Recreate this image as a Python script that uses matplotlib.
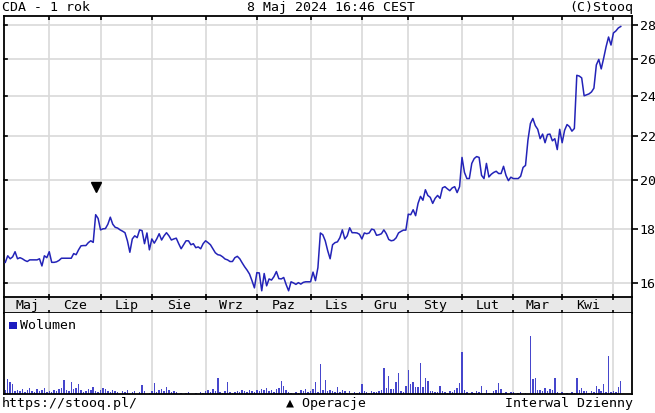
import numpy as np
import matplotlib
matplotlib.use('Agg')
import matplotlib.pyplot as plt
from matplotlib.ticker import FixedLocator, NullLocator, FuncFormatter
from matplotlib.patches import Rectangle
import matplotlib.transforms as mtransforms

# ---------------- data ----------------
month_labels = ['Maj', 'Cze', 'Lip', 'Sie', 'Wrz', 'Paz', 'Lis', 'Gru',
                'Sty', 'Lut', 'Mar', 'Kwi']
# trading sessions per month (May 2023 .. May 2024)
month_days = [18, 21, 21, 22, 21, 22, 21, 19, 22, 21, 20, 21, 4]

price_2023_05 = [16.73, 16.97, 16.86, 16.93, 17.12, 16.86, 16.90, 16.86, 16.80,
                 16.76, 16.82, 16.82, 16.82, 16.82, 16.86, 16.60, 16.97, 16.90]
price_2023_06 = [17.12, 16.73, 16.73, 16.75, 16.80, 16.88, 16.88, 16.88, 16.88,
                 16.88, 17.05, 17.01, 17.19, 17.34, 17.35, 17.35, 17.46, 17.53,
                 17.47, 18.55, 18.40]
price_2023_07 = [17.95, 17.99, 18.00, 18.17, 18.45, 18.17, 18.05, 18.02, 17.95,
                 17.90, 17.84, 17.53, 17.10, 17.60, 17.72, 17.65, 17.95, 17.92,
                 17.42, 17.83, 17.19]
price_2023_08 = [17.60, 17.44, 17.60, 17.80, 17.56, 17.72, 17.84, 17.72, 17.56,
                 17.60, 17.63, 17.42, 17.23, 17.38, 17.53, 17.53, 17.38, 17.42,
                 17.27, 17.30, 17.23, 17.42]
price_2023_09 = [17.53, 17.46, 17.38, 17.23, 17.08, 17.01, 16.99, 16.93, 16.85,
                 16.82, 16.76, 16.76, 16.90, 16.95, 16.86, 16.71, 16.57, 16.45,
                 16.31, 16.08, 15.83]
price_2023_10 = [16.36, 16.35, 15.73, 16.33, 15.90, 16.14, 16.10, 16.22, 16.40,
                 16.15, 16.14, 16.19, 15.94, 15.73, 16.04, 16.00, 15.95, 16.01,
                 15.96, 16.02, 16.04, 16.04]
price_2023_11 = [16.04, 16.38, 16.08, 16.54, 17.83, 17.76, 17.53, 17.16, 16.86,
                 17.38, 17.46, 17.49, 17.65, 17.95, 17.60, 17.72, 18.03, 17.84,
                 17.84, 17.83, 17.78]
price_2023_12 = [17.60, 17.83, 17.80, 17.83, 17.98, 17.95, 17.74, 17.76, 17.80,
                 17.95, 17.80, 17.58, 17.53, 17.55, 17.64, 17.83, 17.89, 17.94,
                 17.94]
price_2024_01 = [18.57, 18.55, 18.75, 18.51, 19.01, 19.30, 19.14, 19.58, 19.34,
                 19.26, 19.01, 19.22, 19.34, 19.22, 19.66, 19.71, 19.62, 19.54,
                 19.66, 19.71, 19.46, 19.71]
price_2024_02 = [21.00, 20.33, 20.06, 20.06, 20.73, 20.95, 21.04, 21.00, 20.20,
                 20.06, 20.73, 20.13, 20.25, 20.33, 20.38, 20.28, 20.28, 20.60,
                 20.20, 19.97, 20.12]
price_2024_03 = [20.06, 20.06, 20.06, 20.16, 20.55, 20.64, 21.81, 22.60, 22.85,
                 22.50, 22.32, 21.87, 22.09, 21.68, 22.07, 22.09, 21.77, 21.87,
                 21.36, 22.32]
price_2024_04 = [21.68, 22.27, 22.55, 22.45, 22.23, 22.36, 25.09, 25.05, 24.95,
                 24.00, 24.05, 24.10, 24.20, 24.40, 25.66, 25.97, 25.44, 26.04,
                 26.70, 27.26, 26.79]
price_2024_05 = [27.50, 27.62, 27.80, 27.89]

vol_2023_05 = [4, 15, 12, 10, 3, 4, 3, 5, 2, 4, 6, 3, 2, 5, 3, 4, 6, 2]
vol_2023_06 = [3, 2, 4, 3, 5, 6, 14, 4, 3, 12, 5, 6, 10, 4, 2, 3, 5, 4, 7, 3, 2]
vol_2023_07 = [4, 6, 5, 3, 2, 4, 3, 2, 0, 3, 2, 4, 0, 2, 3, 0, 2, 9, 3, 0, 1]
vol_2023_08 = [3, 11, 2, 4, 5, 3, 7, 4, 2, 3, 2, 0, 1, 0, 1, 2, 0, 0, 1, 0, 2, 1]
vol_2023_09 = [3, 4, 2, 5, 3, 16, 2, 1, 3, 12, 2, 1, 2, 3, 2, 4, 3, 2, 4, 3, 2]
vol_2023_10 = [4, 3, 5, 4, 6, 3, 4, 2, 5, 6, 13, 8, 4, 2, 1, 0, 2, 1, 4, 3, 5, 2]
vol_2023_11 = [3, 5, 12, 2, 30, 4, 14, 3, 4, 3, 2, 7, 2, 4, 3, 1, 3, 0, 2, 1, 2]
vol_2023_12 = [10, 3, 2, 1, 3, 2, 2, 3, 4, 26, 6, 18, 5, 5, 12, 21, 3, 2, 8]
vol_2024_01 = [24, 10, 12, 7, 7, 31, 7, 16, 13, 3, 3, 2, 2, 8, 3, 2, 1, 3, 2, 4, 6, 11]
vol_2024_02 = [42, 4, 2, 0, 2, 1, 3, 2, 8, 0, 4, 1, 0, 3, 4, 11, 5, 1, 2, 0, 2]
vol_2024_03 = [2, 0, 1, 2, 0, 1, 0, 58, 15, 16, 4, 4, 3, 6, 3, 5, 4, 16, 2, 0]
vol_2024_04 = [2, 0, 1, 0, 2, 1, 16, 4, 6, 3, 3, 1, 3, 2, 8, 5, 3, 10, 2, 38, 2]
vol_2024_05 = [3, 2, 7, 13]

ops_index = [37]          # session with an operation (▼)
yticks = [16, 18, 20, 22, 24, 26, 28]

price = np.array(price_2023_05 + price_2023_06 + price_2023_07 + price_2023_08 +
                 price_2023_09 + price_2023_10 + price_2023_11 + price_2023_12 +
                 price_2024_01 + price_2024_02 + price_2024_03 + price_2024_04 +
                 price_2024_05)
volume = np.array(vol_2023_05 + vol_2023_06 + vol_2023_07 + vol_2023_08 +
                  vol_2023_09 + vol_2023_10 + vol_2023_11 + vol_2023_12 +
                  vol_2024_01 + vol_2024_02 + vol_2024_03 + vol_2024_04 +
                  vol_2024_05) * 1000.0

# ---------------- figure ----------------
FONT = 'DejaVu Sans Mono'
FS = 9.5
W, H = 655, 413
fig = plt.figure(figsize=(W / 100, H / 100), dpi=100)
fig.patch.set_facecolor('white')

def rect(l, t, r, b):
    return [l / W, 1 - b / H, (r - l) / W, (b - t) / H]

ax = fig.add_axes(rect(4, 16, 632, 297))
axm = fig.add_axes(rect(4, 297, 632, 313))
axv = fig.add_axes(rect(4, 313, 632, 394))

x = np.arange(len(price))
bounds = np.cumsum([0] + month_days)
month_starts = bounds[1:-1]
label_pos = [(bounds[i] + bounds[i + 1]) / 2 for i in range(len(month_labels))]
xlim = (-0.53, len(price) - 1 + 4.6)

GRID = '#d9d9d9'
LINE = '#2323b8'
BAR = '#4646cc'

# price panel
ax.set_yscale('log')
ax.set_xlim(*xlim)
ax.set_ylim(15.52, 28.53)
for m in month_starts:
    ax.axvline(m, color=GRID, lw=1.2, zorder=0)
for t in yticks:
    ax.axhline(t, color=GRID, lw=1.2, zorder=0)
ax.plot(x, price, color=LINE, lw=1.1, zorder=3)
off = mtransforms.offset_copy(ax.transData, fig=fig, x=0, y=28, units='dots')
ax.plot(ops_index, price[ops_index], linestyle='none', marker='v', color='black',
        ms=7, transform=off, zorder=4)

ax.yaxis.set_major_locator(FixedLocator(yticks))
ax.yaxis.set_minor_locator(NullLocator())
ax.yaxis.set_major_formatter(FuncFormatter(lambda v, _: f"{v:g}"))
ax.tick_params(axis='y', which='both', left=False, right=True, labelleft=False,
               labelright=True, direction='out', length=4, width=1.2, pad=1.5,
               labelsize=FS)
for lab in ax.get_yticklabels():
    lab.set_fontfamily(FONT)
ax.set_xticks(month_starts)
ax.tick_params(axis='x', which='both', bottom=False, top=True, labelbottom=False,
               direction='in', length=3, width=1.2)
for t in yticks:
    ax.plot([0, 0.005], [t, t], transform=ax.get_yaxis_transform(),
            color='black', lw=1.2, clip_on=False)
for s in ['left', 'right', 'top']:
    ax.spines[s].set_linewidth(1.3)
ax.spines['bottom'].set_visible(False)

# month strip
axm.set_xlim(*xlim)
axm.set_ylim(0, 1)
axm.set_facecolor('#e8e8e8')
axm.set_yticks([])
axm.set_xticks(month_starts)
axm.tick_params(axis='x', top=True, bottom=True, labelbottom=False,
                direction='inout', length=5, width=1.2)
for p, lab in zip(label_pos, month_labels):
    axm.text(p, 0.45, lab, ha='center', va='center', fontsize=FS, family=FONT)
for s in axm.spines.values():
    s.set_linewidth(1.3)

# volume panel
axv.set_xlim(*xlim)
axv.set_ylim(0, volume.max() * 81 / 58)
for m in month_starts:
    axv.axvline(m, color=GRID, lw=1.2, zorder=0)
axv.bar(x, volume, width=0.6, color=BAR, linewidth=0, zorder=2)
axv.set_xticks([])
axv.set_yticks([])
for s in ['left', 'right', 'bottom']:
    axv.spines[s].set_linewidth(1.3)
axv.spines['top'].set_visible(False)
axv.add_patch(Rectangle((0.008, 0.80), 0.012, 0.095, transform=axv.transAxes,
                        facecolor='#1c1cc0', edgecolor='none', zorder=5))
axv.text(0.026, 0.85, 'Wolumen', transform=axv.transAxes, ha='left', va='center',
         fontsize=FS, family=FONT)

# header / footer texts
fig.text(2 / W, 1 - 7.5 / H, 'CDA - 1 rok', ha='left', va='center', fontsize=FS, family=FONT)
fig.text(331 / W, 1 - 7.5 / H, '8 Maj 2024 16:46 CEST', ha='center', va='center',
         fontsize=FS, family=FONT)
fig.text(633 / W, 1 - 7.5 / H, '(C)Stooq', ha='right', va='center', fontsize=FS, family=FONT)
fig.text(2 / W, 1 - 404 / H, 'https://stooq.pl/', ha='left', va='center', fontsize=FS, family=FONT)
fig.text(326 / W, 1 - 404 / H, '▲ Operacje', ha='center', va='center', fontsize=FS, family=FONT)
fig.text(633 / W, 1 - 404 / H, 'Interwal Dzienny', ha='right', va='center', fontsize=FS, family=FONT)

fig.savefig('out.png', dpi=100, facecolor='white')
